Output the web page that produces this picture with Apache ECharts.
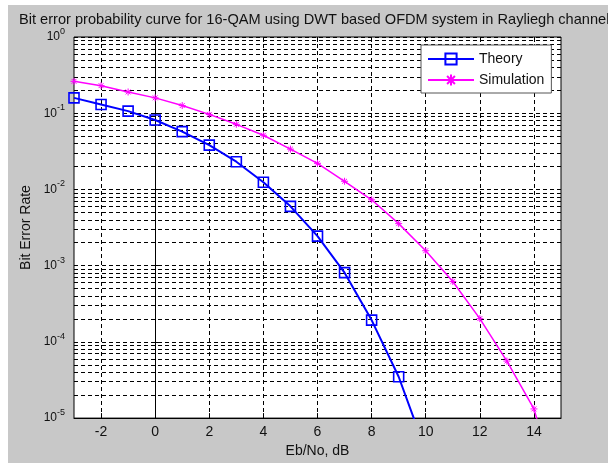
<!DOCTYPE html>
<html>
<head>
<meta charset="utf-8">
<script src="https://cdn.jsdelivr.net/npm/echarts@6/dist/echarts.min.js"></script>
<style>
  html, body { margin: 0; padding: 0; background: #fff; }
  #main { width: 608px; height: 463px; }
</style>
</head>
<body>
<div id="main"></div>
<script>
// Eb/No (dB) values
var ebnoTheory = [-3, -2, -1, 0, 1, 2, 3, 4, 5, 6, 7, 8, 9, 10];
var berTheory = [0.159, 0.130, 0.1066, 0.0814, 0.0574, 0.0381, 0.0231, 0.01245, 0.0060, 0.00244, 0.00081, 0.000193, 0.0000349, 0.0000037];

var ebnoSim = [-3, -2, -1, 0, 1, 2, 3, 4, 5, 6, 7, 8, 9, 10, 11, 12, 13, 14, 15];
var berSim = [0.262, 0.230, 0.190, 0.159, 0.126, 0.0965, 0.0715, 0.0514, 0.0338, 0.0220, 0.0128, 0.00732, 0.00356, 0.00157, 0.00062, 0.000202, 0.000056, 0.0000132, 0.0000008];

var xTicks = [-2, 0, 2, 4, 6, 8, 10, 12, 14];

// minor log grid values 2..9 x 10^k
var minorTicks = [];
for (var k = -5; k < 0; k++) {
    for (var m = 2; m <= 9; m++) {
        minorTicks.push(Number((m * Math.pow(10, k)).toPrecision(3)));
    }
}

function pairs(xs, ys) {
    var out = [];
    for (var i = 0; i < xs.length; i++) out.push([xs[i], ys[i]]);
    return out;
}

var dash = [4, 3];
var txt = '#111';
var font = 'Liberation Sans, Arial, sans-serif';

var chart = echarts.init(document.getElementById('main'));

var option = {
    backgroundColor: '#c8c8c8',
    animation: false,
    textStyle: { fontFamily: font },
    title: {
        text: 'Bit error probability curve for 16-QAM using DWT based OFDM system in Rayliegh channel',
        left: 14,
        top: 7,
        textStyle: { fontSize: 14.6, fontWeight: 'normal', color: txt, fontFamily: font }
    },
    graphic: [
        { type: 'rect', shape: { x: 0, y: 0, width: 608, height: 5 }, style: { fill: '#fff' } },
        { type: 'rect', shape: { x: 0, y: 0, width: 8, height: 463 }, style: { fill: '#fff' } }
    ],
    grid: {
        left: 74, top: 37, width: 487, height: 384,
        show: true, backgroundColor: '#fff', borderColor: '#000', borderWidth: 1
    },
    legend: {
        orient: 'vertical',
        left: 421, top: 45,
        padding: [7, 7, 6, 6],
        itemGap: 7,
        itemWidth: 46,
        itemHeight: 14,
        backgroundColor: '#fff',
        borderColor: '#555',
        borderWidth: 1,
        textStyle: { fontSize: 14, color: txt, fontFamily: font },
        data: ['Theory', 'Simulation']
    },
    xAxis: [
        {
            type: 'value',
            min: -3, max: 15,
            name: 'Eb/No, dB',
            nameLocation: 'middle',
            nameGap: 25,
            nameTextStyle: { fontSize: 14, color: txt },
            axisLine: { show: true, onZero: false, lineStyle: { color: '#000' } },
            axisTick: { show: true, inside: true, length: 5, customValues: xTicks, lineStyle: { color: '#000' } },
            axisLabel: { customValues: xTicks, fontSize: 14, color: txt, margin: 7 },
            splitLine: { show: true, lineStyle: { color: '#000', type: dash, width: 1 } }
        },
        {
            type: 'value',
            position: 'top',
            min: -3, max: 15,
            axisLine: { show: false },
            axisTick: { show: true, inside: true, length: 5, customValues: xTicks, lineStyle: { color: '#000' } },
            axisLabel: { show: false },
            splitLine: { show: false }
        }
    ],
    yAxis: [
        {
            type: 'log',
            logBase: 10,
            min: 1e-5, max: 1,
            name: 'Bit Error Rate',
            nameLocation: 'middle',
            nameGap: 41,
            nameTextStyle: { fontSize: 14, color: txt },
            axisLine: { show: true, lineStyle: { color: '#000' } },
            axisTick: { show: true, inside: true, length: 5, lineStyle: { color: '#000' } },
            axisLabel: {
                margin: 9,
                formatter: function (v) {
                    var e = Math.round(Math.log10(v));
                    return '{b|10}{e|' + e + '}';
                },
                rich: {
                    b: { fontSize: 12, color: txt, fontFamily: font },
                    e: { fontSize: 9, color: txt, fontFamily: font, padding: [0, 0, 11, 0] }
                }
            },
            splitLine: { show: true, lineStyle: { color: '#000', type: dash, width: 1 } }
        },
        {
            type: 'log',
            logBase: 10,
            position: 'right',
            min: 1e-5, max: 1,
            axisLine: { show: false },
            axisTick: { show: true, inside: true, length: 3, customValues: minorTicks, lineStyle: { color: '#000' } },
            axisLabel: { show: false },
            splitLine: { show: true, lineStyle: { color: '#000', type: dash, width: 1 } }
        }
    ],
    series: [
        {
            name: 'Theory',
            type: 'line',
            data: pairs(ebnoTheory, berTheory),
            color: '#0000ff',
            symbol: 'rect',
            symbolSize: 10,
            lineStyle: { color: '#0000ff', width: 2 },
            itemStyle: { color: 'rgba(0,0,0,0)', borderColor: '#0000ff', borderWidth: 1.6 },
            z: 5
        },
        {
            name: 'Simulation',
            type: 'line',
            data: pairs(ebnoSim, berSim),
            color: '#ff00ff',
            symbol: 'path://M0,5L10,5M5,0L5,10M1.5,1.5L8.5,8.5M8.5,1.5L1.5,8.5',
            symbolSize: 7,
            lineStyle: { color: '#ff00ff', width: 1.5 },
            itemStyle: { color: '#ff00ff', borderColor: '#ff00ff', borderWidth: 1 },
            z: 4
        }
    ]
};

chart.setOption(option);
</script>
</body>
</html>
